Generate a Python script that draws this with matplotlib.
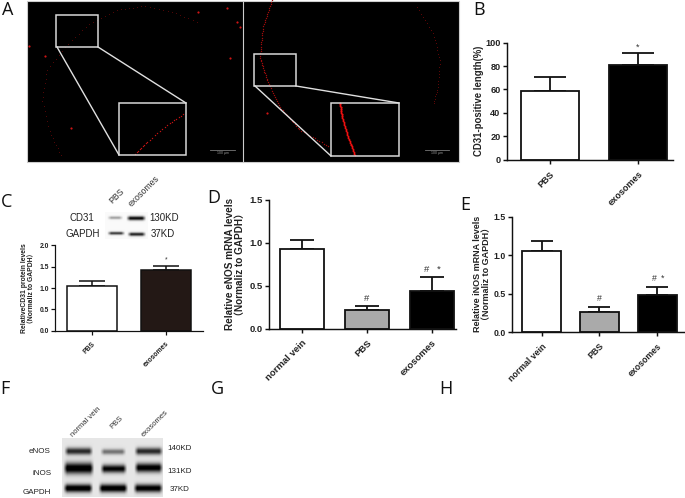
import numpy as np
import matplotlib
matplotlib.use("Agg")
import matplotlib.pyplot as plt
from matplotlib.patches import Rectangle

plt.rcParams["font.family"] = ["Liberation Sans", "Noto Sans CJK SC", "DejaVu Sans"]

W, H = 685, 498

# bar panels
b_labels = ["PBS", "exosomes"]
b_values = [59, 81]
b_tops = [70.5, 91]
b_ticks = [0, 20, 40, 60, 80, 100]

c_labels = ["PBS", "exosomes"]
c_values = [1.05, 1.43]
c_tops = [1.17, 1.52]
c_ticks = [0.0, 0.5, 1.0, 1.5, 2.0]

d_labels = ["normal vein", "PBS", "exosomes"]
d_values = [0.93, 0.22, 0.44]
d_tops = [1.03, 0.27, 0.60]
d_ticks = [0.0, 0.5, 1.0, 1.5]

e_labels = ["normal vein", "PBS", "exosomes"]
e_values = [1.06, 0.26, 0.48]
e_tops = [1.18, 0.33, 0.59]
e_ticks = [0.0, 0.5, 1.0, 1.5]

# micrograph traces, traced by eye (overlay pixels)
arc_left = [(61, 155), (50, 133), (42, 100), (47, 70), (67, 45), (90, 23), (117, 10), (143, 6), (173, 12), (200, 23)]
arc_right = [(272, 0), (263, 27), (260, 57), (267, 80), (280, 107), (300, 130), (330, 147)]
arc_far = [(417, 7), (433, 33), (440, 60), (438, 87), (433, 105)]
inset_left = [(135, 154), (147, 142), (167, 125), (185, 113)]
inset_right = [(340, 103), (342, 117), (348, 137), (355, 155)]
spots = [(227, 8), (237, 22), (29, 46), (198, 12), (71, 128), (45, 56), (267, 113), (230, 58), (240, 27)]

fig = plt.figure(figsize=(W / 100, H / 100), dpi=100)
bg = fig.add_axes([0, 0, 1, 1])
bg.set_xlim(0, W)
bg.set_ylim(H, 0)
bg.axis("off")


def trace(pts, color, size, skip):
    xs, ys = zip(*pts)
    t = np.linspace(0, len(pts) - 1, 40 * (len(pts) - 1))
    k = np.arange(len(pts))
    bg.scatter(np.interp(t, k, xs)[::skip], np.interp(t, k, ys)[::skip], s=size, color=color, lw=0)


def box(x0, y0, x1, y1, color="#d8d8d8", lw=1.1):
    bg.add_patch(Rectangle((x0, y0), x1 - x0, y1 - y0, fc="none", ec=color, lw=lw))


def link(x0, y0, x1, y1):
    bg.plot([x0, x1], [y0, y1], color="#e0e0e0", lw=1.0)


bg.add_patch(Rectangle((27, 1), 432, 161, fc="black", ec="#cccccc", lw=0.8))
bg.plot([243.5, 243.5], [1, 162], color="#cccccc", lw=0.8)
trace(arc_left, "#5c0808", 0.6, 6)
trace(arc_right, "#9c0c0c", 1.0, 3)
trace(arc_far, "#6a0808", 0.6, 5)
trace(inset_left, "#c01212", 1.0, 5)
trace(inset_right, "#f01010", 1.6, 2)
bg.scatter(*zip(*spots), s=2.5, color="#d01515", lw=0)
box(56, 15, 98, 47)
box(119, 103, 186, 155)
link(57, 47, 119, 155)
link(98, 47, 186, 103)
box(254.5, 53.5, 296, 86)
box(331, 103, 399.5, 156)
link(255, 86, 331, 156)
link(296, 86, 399, 103)
for x0, x1 in [(210, 235), (425, 449)]:
    bg.plot([x0, x1], [149.5, 149.5], color="#777777", lw=0.6)
    bg.text((x0 + x1) / 2, 152.5, "100 μm", color="#999999", fontsize=2.5, ha="center", va="center")


def blot(x0, y0, x1, y1, bands, shade):
    # bands: x0, x1, yc, height, darkness
    yy, xx = np.mgrid[y0:y1:0.5, x0:x1:0.5]
    img = np.full(xx.shape, shade, dtype=float)
    for bx0, bx1, yc, h, d in bands:
        fx = np.clip((xx - bx0) / 4, 0, 1) * np.clip((bx1 - xx) / 4, 0, 1)
        img -= d * fx * np.exp(-((yy - yc) / (h / 2)) ** 2)
    bg.imshow(np.clip(img, 0, 1), extent=(x0, x1, y1, y0), cmap="gray", vmin=0, vmax=1, aspect="auto", zorder=1)
    bg.set_xlim(0, W)
    bg.set_ylim(H, 0)


blot(105, 212, 148, 239, [(107, 123, 217.5, 3, 0.35), (126, 146, 218, 4, 0.95),
                          (107, 125, 233, 3, 0.75), (127, 146, 234, 3.5, 0.85)], 0.98)
blot(62, 438, 163, 497, [(64, 93, 451, 7, 0.75), (100, 126, 451.5, 5.5, 0.45), (134, 163, 451, 7, 0.75),
                         (63, 94, 468, 11, 1.0), (100, 127, 468.5, 8, 0.9), (134, 163, 467.5, 9, 0.95),
                         (63, 93, 488, 8, 1.0), (98, 128, 488, 8, 1.0), (133, 163, 488, 8, 0.95)], 0.90)


def note(x, y, s, size=7, **kw):
    bg.text(x, y, s, fontsize=size, ha="center", va="center", color="#222222", **kw)


def lane(x, y, s, size=6.3):
    bg.text(x, y, s, fontsize=size, rotation=45, rotation_mode="anchor", ha="left", va="bottom", color="#333333")


note(82, 217.5, "CD31")
note(82.5, 234, "GAPDH")
note(164, 217.5, "130KD")
note(163, 234, "37KD")
lane(114, 205, "PBS")
lane(133, 208, "exosomes")
note(40, 451, "eNOS", 5.8)
note(42, 473, "iNOS", 5.8)
note(37, 492, "GAPDH", 5.8)
note(180, 448, "140KD", 5.8)
note(180, 471, "131KD", 5.8)
note(180, 489, "37KD", 5.8)
lane(74, 438, "normal vein", 5.5)
lane(114, 430, "PBS", 5.5)
lane(145, 438, "exosomes", 5.5)

for s, x, y in [("A", 8, 10), ("B", 479, 10), ("C", 7, 201.5), ("D", 214, 198), ("E", 465, 205),
                ("F", 5, 389), ("G", 217, 389), ("H", 446, 389)]:
    bg.text(x, y, s, fontsize=13, family="Open Sans", ha="center", va="center", color="#111111")


def bars(box_px, first, step, width, labels, values, tops, colors, ticks, ymax,
         tick_size, label_size, name_size, ylabel, ylabel_x, lw, marks):
    left, right, y0, ytop = box_px
    ax = fig.add_axes([left / W, 1 - y0 / H, (right - left) / W, (y0 - ytop) / H])
    ax.patch.set_alpha(0)
    ax.set_xlim((left - first) / step, (right - first) / step)
    ax.set_ylim(0, ymax)
    x = np.arange(len(values))
    w = width / step
    ax.bar(x, values, w, color=colors, edgecolor="#111111", linewidth=lw, clip_on=False, zorder=2)
    ax.errorbar(x, values, yerr=[np.zeros(len(x)), np.array(tops) - np.array(values)], fmt="none",
                ecolor="#111111", elinewidth=lw, capsize=w * step * 0.27 * 0.72, capthick=lw, zorder=1)
    for side in ["top", "right"]:
        ax.spines[side].set_visible(False)
    for side in ["left", "bottom"]:
        ax.spines[side].set_linewidth(lw * 0.8)
        ax.spines[side].set_color("#111111")
    ax.set_yticks(ticks)
    ax.set_yticklabels([f"{t:g}" if ymax > 10 else f"{t:.1f}" for t in ticks],
                       fontsize=tick_size, fontweight="bold", color="#222222")
    ax.set_xticks(x)
    ax.set_xticklabels(labels, rotation=45, ha="right", rotation_mode="anchor",
                       fontsize=name_size, fontweight="bold", color="#222222")
    ax.tick_params(axis="both", width=lw * 0.8, length=3, pad=1.5, color="#111111")
    ax.tick_params(axis="x", pad=4)
    bg.text(ylabel_x, (y0 + ytop) / 2, ylabel, rotation=90, fontsize=label_size, fontweight="bold",
            ha="center", va="center", linespacing=1.05, color="#222222")
    for mx, my, s in marks:
        ax.text(mx, my, s, fontsize=tick_size, ha="center", va="center", color="#333333")
    return ax


bars((506.7, 673, 159.7, 42.7), 550, 88, 58.7, b_labels, b_values, b_tops, ["white", "black"],
     b_ticks, 100, 6.6, 6.9, 6.6, "CD31-positive length(%)", 479, 1.3, [(1, 96, "*")])
bars((55, 202.7, 330.7, 245.3), 91.8, 74, 50, c_labels, c_values, c_tops, ["white", "#231815"],
     c_ticks, 2.0, 4.9, 4.9, 4.9, "RelativeCD31 protein levels\n（Normaliz to GAPDH）", 28, 1.1,
     [(1, 1.67, "*")])
bars((269.3, 456, 328.7, 200), 302, 65, 43.5, d_labels, d_values, d_tops, ["white", "#aaaaaa", "black"],
     d_ticks, 1.5, 6.8, 7.2, 6.8, "Relative eNOS mRNA levels\n（Normaliz to GAPDH）", 235, 1.3,
     [(1, 0.35, "#"), (1.92, 0.69, "#"), (2.11, 0.69, "*")])
bars((512.3, 684, 332, 216.7), 541.5, 57.8, 39, e_labels, e_values, e_tops, ["white", "#aaaaaa", "black"],
     e_ticks, 1.5, 6.3, 6.5, 6.3, "Relative iNOS mRNA levels\n（Normaliz to GAPDH）", 482, 1.3,
     [(1, 0.43, "#"), (1.95, 0.70, "#"), (2.09, 0.70, "*")])

fig.savefig("out.png", dpi=100)
